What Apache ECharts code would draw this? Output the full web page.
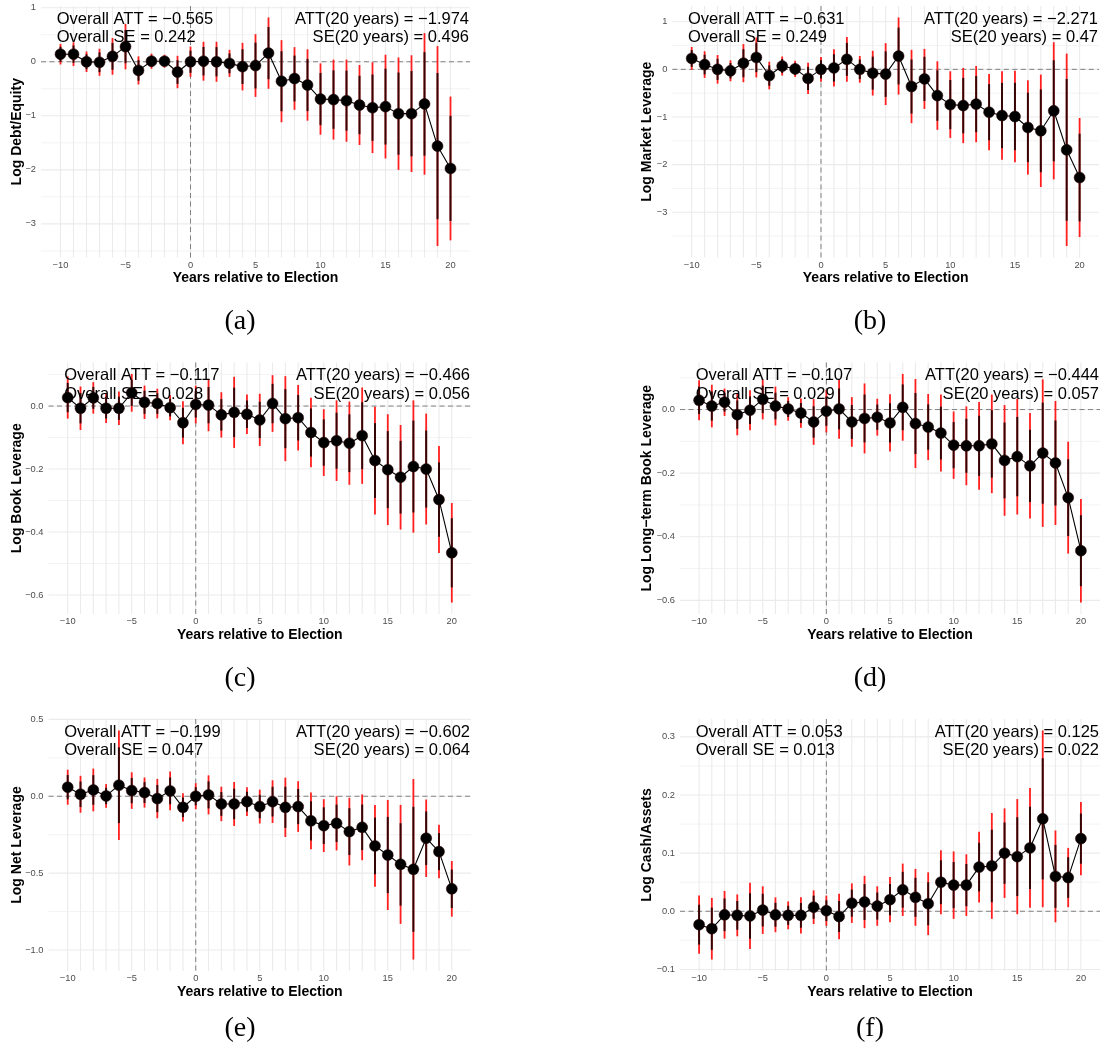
<!DOCTYPE html>
<html>
<head>
<meta charset="utf-8">
<script src="https://cdn.jsdelivr.net/npm/echarts@6/dist/echarts.min.js"></script>
<style>html,body{margin:0;padding:0;background:#fff}#chart{width:1105px;height:1053px}</style>
</head>
<body>
<div id="chart"></div>
<script>
// ---------- data ----------
const years = [-10,-9,-8,-7,-6,-5,-4,-3,-2,-1,0,1,2,3,4,5,6,7,8,9,10,11,12,13,14,15,16,17,18,19,20];
const xTickLabels = [-10,-5,0,5,10,15,20];

// (a) Log Debt/Equity
const estDebtEquity = [0.14,0.14,0.00,-0.01,0.10,0.28,-0.16,0.01,0.01,-0.19,0.00,0.01,0.00,-0.03,-0.09,-0.07,0.16,-0.36,-0.31,-0.43,-0.69,-0.70,-0.72,-0.80,-0.85,-0.83,-0.96,-0.96,-0.78,-1.56,-1.974];
const ciDebtEquity  = [0.19,0.22,0.19,0.25,0.34,0.42,0.26,0.14,0.12,0.30,0.28,0.36,0.37,0.25,0.44,0.58,0.66,0.76,0.58,0.66,0.66,0.74,0.76,0.74,0.84,0.96,1.04,1.08,1.31,1.85,1.33];
// (b) Log Market Leverage
const estMarketLev = [0.23,0.10,0.00,-0.03,0.13,0.25,-0.13,0.07,0.01,-0.19,0.00,0.03,0.21,0.00,-0.08,-0.10,0.28,-0.36,-0.20,-0.55,-0.74,-0.76,-0.73,-0.90,-0.97,-0.99,-1.22,-1.29,-0.87,-1.69,-2.271];
const ciMarketLev  = [0.24,0.28,0.30,0.22,0.40,0.42,0.29,0.20,0.17,0.33,0.26,0.39,0.47,0.28,0.47,0.65,0.81,0.77,0.63,0.72,0.70,0.79,0.80,0.80,0.93,0.96,0.99,1.18,1.44,2.02,1.25];
// (c) Log Book Leverage
const estBookLev = [0.027,-0.007,0.026,-0.007,-0.007,0.042,0.012,0.008,-0.005,-0.053,0.005,0.003,-0.028,-0.020,-0.026,-0.044,0.008,-0.040,-0.037,-0.084,-0.116,-0.110,-0.118,-0.094,-0.173,-0.202,-0.226,-0.192,-0.200,-0.297,-0.466];
const ciBookLev  = [0.067,0.069,0.050,0.047,0.053,0.060,0.053,0.047,0.040,0.068,0.060,0.083,0.072,0.113,0.063,0.083,0.090,0.135,0.104,0.110,0.106,0.128,0.132,0.153,0.171,0.176,0.166,0.210,0.176,0.170,0.158];
// (d) Log Long-term Book Leverage
const estLTBookLev = [0.029,0.011,0.023,-0.016,-0.002,0.032,0.011,0.002,-0.011,-0.039,-0.005,0.002,-0.039,-0.028,-0.024,-0.042,0.007,-0.044,-0.055,-0.074,-0.112,-0.114,-0.114,-0.108,-0.160,-0.148,-0.177,-0.137,-0.168,-0.277,-0.444];
const ciLTBookLev  = [0.063,0.067,0.043,0.065,0.063,0.063,0.061,0.037,0.046,0.072,0.067,0.094,0.078,0.110,0.058,0.090,0.105,0.140,0.104,0.121,0.106,0.124,0.138,0.155,0.174,0.182,0.166,0.232,0.195,0.176,0.163];
// (e) Log Net Leverage
const estNetLev = [0.059,0.013,0.041,0.002,0.072,0.037,0.024,-0.015,0.035,-0.072,0.000,0.009,-0.050,-0.050,-0.035,-0.067,-0.035,-0.072,-0.067,-0.160,-0.191,-0.176,-0.230,-0.202,-0.323,-0.382,-0.443,-0.475,-0.273,-0.360,-0.602];
const ciNetLev  = [0.114,0.120,0.139,0.077,0.356,0.119,0.098,0.128,0.126,0.092,0.085,0.127,0.112,0.143,0.093,0.110,0.139,0.193,0.165,0.184,0.172,0.176,0.220,0.214,0.266,0.358,0.387,0.587,0.252,0.174,0.181];
// (f) Log Cash/Assets
const estCash = [-0.023,-0.030,-0.006,-0.007,-0.008,0.002,-0.006,-0.007,-0.007,0.007,0.001,-0.009,0.014,0.016,0.009,0.020,0.037,0.024,0.013,0.050,0.045,0.045,0.076,0.078,0.100,0.094,0.109,0.159,0.060,0.058,0.125];
const ciCash  = [0.050,0.053,0.041,0.036,0.057,0.041,0.030,0.024,0.031,0.029,0.026,0.039,0.034,0.045,0.034,0.039,0.045,0.049,0.054,0.055,0.058,0.053,0.061,0.091,0.077,0.099,0.103,0.152,0.079,0.051,0.063];

// uniform-band critical values (pointwise band uses 1.96)
const critValues = [2.68, 2.66, 2.82, 2.86, 2.83, 2.86];

const yTitles = ['Log Debt/Equity','Log Market Leverage','Log Book Leverage','Log Long\u2212term Book Leverage','Log Net Leverage','Log Cash/Assets'];
const captions = ['(a)','(b)','(c)','(d)','(e)','(f)'];
const overallATT = ['\u22120.565','\u22120.631','\u22120.117','\u22120.107','\u22120.199','0.053'];
const overallSE  = ['0.242','0.249','0.028','0.029','0.047','0.013'];
const att20 = ['\u22121.974','\u22122.271','\u22120.466','\u22120.444','\u22120.602','0.125'];
const se20  = ['0.496','0.47','0.056','0.057','0.064','0.022'];

const yTicksA = [-3,-2,-1,0,1],  yMinorA = [-3.5,-2.5,-1.5,-0.5,0.5];
const yTicksB = [-3,-2,-1,0,1],  yMinorB = [-3.5,-2.5,-1.5,-0.5,0.5];
const yTicksC = [-0.6,-0.4,-0.2,0], yMinorC = [-0.5,-0.3,-0.1,0.1];
const yTicksD = [-0.6,-0.4,-0.2,0], yMinorD = [-0.5,-0.3,-0.1,0.1];
const yTicksE = [-1,-0.5,0,0.5], yMinorE = [-0.75,-0.25,0.25];
const yTicksF = [-0.1,0,0.1,0.2,0.3], yMinorF = [-0.05,0.05,0.15,0.25];

// ---------- assembly ----------
const panels = [
  {est: estDebtEquity, ci: ciDebtEquity, ticks: yTicksA, minor: yMinorA, dec: 0},
  {est: estMarketLev, ci: ciMarketLev, ticks: yTicksB, minor: yMinorB, dec: 0},
  {est: estBookLev, ci: ciBookLev, ticks: yTicksC, minor: yMinorC, dec: 1},
  {est: estLTBookLev, ci: ciLTBookLev, ticks: yTicksD, minor: yMinorD, dec: 1},
  {est: estNetLev, ci: ciNetLev, ticks: yTicksE, minor: yMinorE, dec: 1},
  {est: estCash, ci: ciCash, ticks: yTicksF, minor: yMinorF, dec: 1}
];

const layout = [
  {left: 41,    top: 6,     width: 429,   height: 251.5, ytX: 17,  capX: 240, capY: 322},
  {left: 672.3, top: 6,     width: 426.7, height: 251.5, ytX: 647, capX: 870, capY: 322},
  {left: 48.5,  top: 362.5, width: 422.5, height: 251.5, ytX: 17,  capX: 240, capY: 679},
  {left: 680,   top: 362.5, width: 420,   height: 251.5, ytX: 647, capX: 870, capY: 679},
  {left: 48.5,  top: 719,   width: 422.5, height: 252,   ytX: 17,  capX: 240, capY: 1029},
  {left: 680,   top: 719,   width: 420,   height: 252,   ytX: 647, capX: 870, capY: 1029}
];

const SANS = 'Liberation Sans, Arial, Helvetica, sans-serif';
const SERIF = 'Liberation Serif, Times New Roman, serif';
const fmt = (v, d) => { const s = Number(v).toFixed(d); return (s === '-0' || s === '-0.0') ? s.slice(1) : s.replace('-', '\u2212'); };

function gridRender(params, api) {
  const cs = params.coordSys;
  const o = api.value(0), v = api.value(1), k = api.value(2);
  let shape;
  if (o === 0) {
    const y = api.coord([0, v])[1];
    shape = {x1: cs.x, y1: y, x2: cs.x + cs.width, y2: y};
  } else {
    const x = api.coord([v, 0])[0];
    shape = {x1: x, y1: cs.y, x2: x, y2: cs.y + cs.height};
  }
  let style;
  if (k === 2) style = {stroke: '#757575', lineWidth: 0.9, lineDash: [5, 3.5]};
  else style = {stroke: '#ebebeb', lineWidth: k === 0 ? 1.1 : 0.6};
  return {type: 'line', shape: shape, style: style, silent: true};
}

function barRender(params, api) {
  const x = api.value(0);
  const a = api.coord([x, api.value(1)]), b = api.coord([x, api.value(2)]);
  const c = api.coord([x, api.value(3)]), d = api.coord([x, api.value(4)]);
  return {type: 'group', children: [
    {type: 'line', shape: {x1: a[0], y1: a[1], x2: b[0], y2: b[1]}, style: {stroke: '#ff1f1f', lineWidth: 1.8}},
    {type: 'line', shape: {x1: c[0], y1: c[1], x2: d[0], y2: d[1]}, style: {stroke: 'rgba(25,0,0,0.88)', lineWidth: 2}}
  ]};
}

const option = {animation: false, backgroundColor: '#fff', grid: [], xAxis: [], yAxis: [], series: [], graphic: []};

panels.forEach((p, i) => {
  const L = layout[i];
  const lows = p.est.map((e, j) => e - p.ci[j]);
  const highs = p.est.map((e, j) => e + p.ci[j]);
  const lo = Math.min(...lows), hi = Math.max(...highs);
  const pad = (hi - lo) * 0.05;
  option.grid.push({left: L.left, top: L.top, width: L.width, height: L.height, containLabel: false, outerBoundsMode: 'none'});
  option.xAxis.push({
    type: 'value', gridIndex: i, min: -11.5, max: 21.5,
    axisLine: {show: false}, axisTick: {show: false}, splitLine: {show: false}, minorSplitLine: {show: false},
    axisLabel: {customValues: xTickLabels, formatter: v => fmt(v, 0), fontSize: 9.3, color: '#4d4d4d', margin: 3, fontFamily: SANS}
  });
  option.yAxis.push({
    type: 'value', gridIndex: i, min: lo - pad, max: hi + pad,
    axisLine: {show: false}, axisTick: {show: false}, splitLine: {show: false}, minorSplitLine: {show: false},
    axisLabel: {customValues: p.ticks, formatter: v => fmt(v, p.dec), fontSize: 9.3, color: '#4d4d4d', margin: 5, fontFamily: SANS}
  });
  const gridData = [];
  p.minor.forEach(v => gridData.push([0, v, 1]));
  p.ticks.forEach(v => gridData.push([0, v, 0]));
  years.forEach(v => gridData.push([1, v, 0]));
  option.series.push({type: 'custom', xAxisIndex: i, yAxisIndex: i, z: 1, silent: true, clip: false, renderItem: gridRender, data: gridData});
  option.series.push({type: 'custom', xAxisIndex: i, yAxisIndex: i, z: 2, silent: true, clip: false, renderItem: gridRender, data: [[0, 0, 2], [1, 0, 2]]});
  const ratio = 1.96 / critValues[i];
  option.series.push({
    type: 'custom', xAxisIndex: i, yAxisIndex: i, z: 3, silent: true, renderItem: barRender,
    encode: {x: 0, y: [1, 2]},
    data: years.map((x, j) => [x, lows[j], highs[j], p.est[j] - p.ci[j] * ratio, p.est[j] + p.ci[j] * ratio])
  });
  option.series.push({
    type: 'line', xAxisIndex: i, yAxisIndex: i, z: 4, silent: true,
    data: years.map((x, j) => [x, p.est[j]]),
    symbol: 'circle', symbolSize: 11, showSymbol: true,
    itemStyle: {color: '#000', borderColor: '#2a0000', borderWidth: 0.5},
    lineStyle: {color: '#000', width: 1.1}
  });
  // annotations
  const tStyle = {fontSize: 16.5, fontFamily: SANS, fill: '#000', verticalAlign: 'middle'};
  const lx = L.left + 15.7, rx = L.left + L.width - 1;
  option.graphic.push({type: 'text', x: lx, y: L.top + 13.4, z: 100, style: Object.assign({text: 'Overall ATT = ' + overallATT[i], align: 'left'}, tStyle)});
  option.graphic.push({type: 'text', x: lx, y: L.top + 31.5, z: 100, style: Object.assign({text: 'Overall SE = ' + overallSE[i], align: 'left'}, tStyle)});
  option.graphic.push({type: 'text', x: rx, y: L.top + 13.4, z: 100, style: Object.assign({text: 'ATT(20 years) = ' + att20[i], align: 'right'}, tStyle)});
  option.graphic.push({type: 'text', x: rx, y: L.top + 31.5, z: 100, style: Object.assign({text: 'SE(20 years) = ' + se20[i], align: 'right'}, tStyle)});
  // axis titles
  option.graphic.push({type: 'text', x: L.left + L.width / 2, y: L.top + L.height + 20.7, z: 100,
    style: {text: 'Years relative to Election', fontSize: 14, fontWeight: 'bold', fontFamily: SANS, fill: '#000', align: 'center', verticalAlign: 'middle'}});
  option.graphic.push({type: 'text', x: L.ytX, y: L.top + L.height / 2, rotation: Math.PI / 2, z: 100,
    style: {text: yTitles[i], fontSize: 14, fontWeight: 'bold', fontFamily: SANS, fill: '#000', align: 'center', verticalAlign: 'middle'}});
  // sub-caption
  option.graphic.push({type: 'text', x: L.capX, y: L.capY, z: 100,
    style: {text: captions[i], fontSize: 28, fontFamily: SERIF, fill: '#000', align: 'center', verticalAlign: 'middle'}});
});

const chart = echarts.init(document.getElementById('chart'), null, {renderer: 'canvas'});
chart.setOption(option);
</script>
</body>
</html>
